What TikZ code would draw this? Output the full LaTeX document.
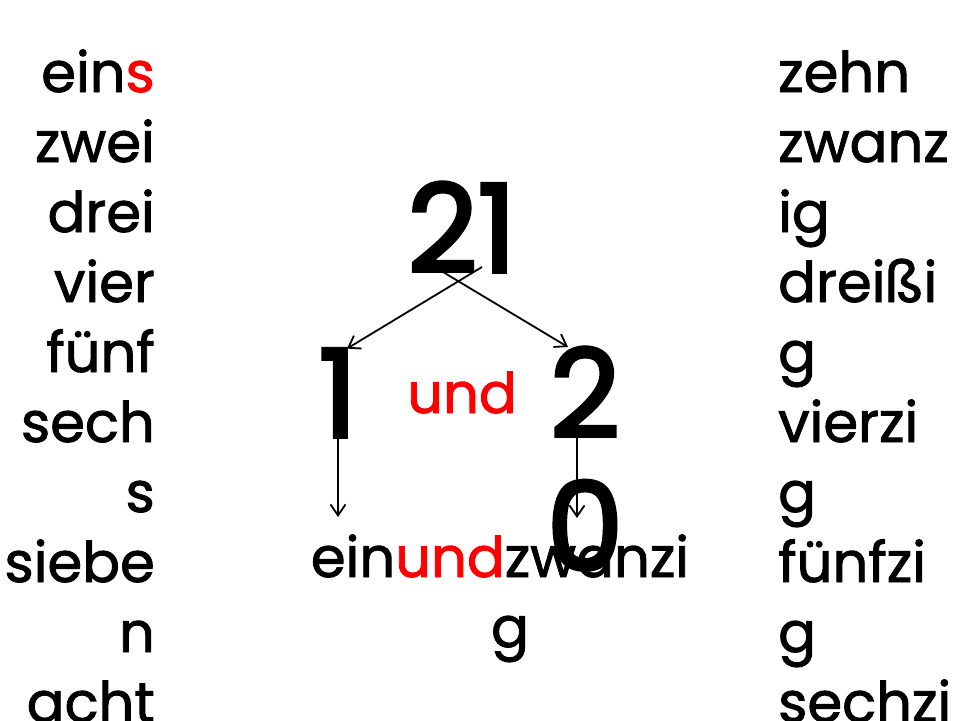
\documentclass[tikz,border=0pt]{standalone}
\usepackage{fontspec}
\setmainfont{Poppins}[FakeBold=1.6]
\usepackage{tikz}
\usetikzlibrary{arrows.meta}

\begin{document}
\begin{tikzpicture}[x=1pt,y=-1pt,
    word/.style={inner sep=0pt,font=\fontsize{56}{60}\selectfont\addfontfeature{FakeBold=1.6}},
    digit/.style={inner sep=0pt,anchor=base,font=\fontsize{122}{130}\selectfont\addfontfeature{FakeBold=3}},
    arrow/.style={-{Straight Barb[length=11pt,width=15pt]},line width=1.8pt}]

        \useasboundingbox (0,0) rectangle (960,720);

        % left column
        \node[word,anchor=base east] (eins)  at (155,92)  {ein\textcolor{red}{s}};
        \node[word,anchor=base east] (zwei)  at (155,162) {zwei};
        \node[word,anchor=base east] (drei)  at (155,232) {drei};
        \node[word,anchor=base east] (vier)  at (155,302) {vier};
        \node[word,anchor=base east] (fuenf) at (155,372) {fünf};
        \node[word,anchor=base east] (sechA) at (155,442) {sech};
        \node[word,anchor=base east] (sechB) at (155,512) {s};
        \node[word,anchor=base east] (siebA) at (155,582) {siebe};
        \node[word,anchor=base east] (siebB) at (155,652) {n};
        \node[word,anchor=base east] (acht)  at (155,722) {acht};

        % right column
        \node[word,anchor=base west] (zehn)   at (778,92)  {zehn};
        \node[word,anchor=base west] (zwanA)  at (778,162) {zwanz};
        \node[word,anchor=base west] (zwanB)  at (778,232) {ig};
        \node[word,anchor=base west] (dreiA)  at (778,302) {dreißi};
        \node[word,anchor=base west] (dreiB)  at (778,372) {g};
        \node[word,anchor=base west] (vierA)  at (778,442) {vierzi};
        \node[word,anchor=base west] (vierB)  at (778,512) {g};
        \node[word,anchor=base west] (fuenfA) at (778,582) {fünfzi};
        \node[word,anchor=base west] (fuenfB) at (778,652) {g};
        \node[word,anchor=base west] (sechzi) at (778,722) {sechzi};

        % the number and its parts
        \node[digit] (n21) at (462,272) {21};
        \node[digit] (n1)  at (338,437) {1};
        \node[digit] (n2)  at (585,437) {2};
        \node[word,anchor=base,red] (und) at (462,413) {und};
        \node[word,anchor=base] (full)  at (500,577) {ein\textcolor{red}{und}zwanzi};
        \node[word,anchor=base] (fullB) at (510,647) {g};
        \node[digit] (n0)  at (585,570) {0};

        \coordinate (from1) at (482,267);
        \coordinate (from2) at (443,272);
        \coordinate (to1)   at (338,517);
        \coordinate (to2)   at (577,518);

        \draw[arrow] (from1) -- ([xshift=9pt]n1.north);
        \draw[arrow] (from2) -- ([xshift=-17pt]n2.north);
        \draw[arrow] (n1.south) -- (to1);
        \draw[arrow] ([xshift=-8pt]n2.south) -- (to2);
      \end{tikzpicture}
\end{document}
